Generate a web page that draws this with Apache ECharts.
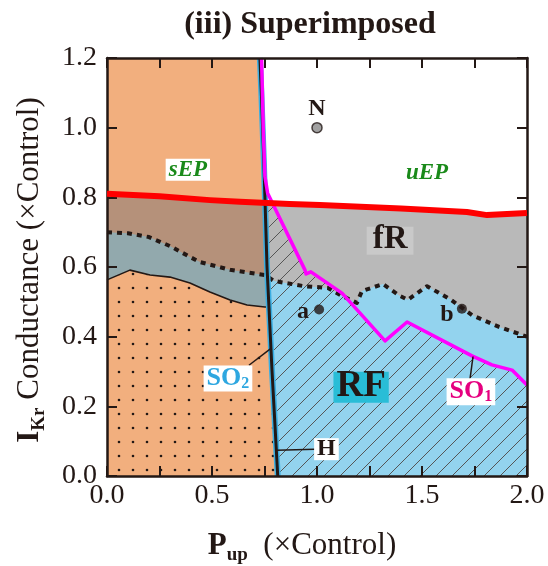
<!DOCTYPE html>
<html>
<head>
<meta charset="utf-8">
<script src="https://cdn.jsdelivr.net/npm/echarts@6/dist/echarts.min.js"></script>
<style>
  html, body { margin: 0; padding: 0; background: #fff; }
  #chart { width: 548px; height: 566px; }
</style>
</head>
<body>
<div id="chart"></div>
<script>
// ---- axis ticks ----
const xTickValues = [0, 0.5, 1.0, 1.5, 2.0];
const xTickLabels = ['0.0', '0.5', '1.0', '1.5', '2.0'];
const yTickValues = [0, 0.2, 0.4, 0.6, 0.8, 1.0, 1.2];
const yTickLabels = ['0.0', '0.2', '0.4', '0.6', '0.8', '1.0', '1.2'];

// ---- boundaries in (Pup, IKr) space ----
// H boundary (thick black line, SO2 drawn in blue beside it), top to bottom
const hBoundary = [[0.728, 1.2], [0.735, 1.1], [0.741, 1.0], [0.747, 0.9], [0.752, 0.8], [0.757, 0.7],
  [0.762, 0.6], [0.770, 0.5], [0.778, 0.4], [0.786, 0.3], [0.795, 0.2], [0.804, 0.1], [0.813, 0.0]];
// SO1 boundary (magenta)
const so1Boundary = [[0.736, 1.2], [0.744, 1.0], [0.752, 0.86], [0.765, 0.812], [0.943, 0.591], [0.948, 0.58],
  [0.971, 0.586], [1.119, 0.525], [1.324, 0.388], [1.429, 0.442], [1.738, 0.345], [1.833, 0.319],
  [1.929, 0.304], [2.0, 0.261]];
// EP boundary (red): sEP / uEP above it
const epBoundary = [[0, 0.81], [0.25, 0.803], [0.49, 0.792], [0.633, 0.787], [0.87, 0.781], [1.014, 0.778],
  [1.4, 0.768], [1.714, 0.758], [1.81, 0.749], [2.0, 0.755]];
// fR / RF boundary (dotted)
const rfBoundary = [[0, 0.70], [0.1, 0.697], [0.2, 0.686], [0.3, 0.66], [0.395, 0.629], [0.443, 0.614],
  [0.586, 0.592], [0.752, 0.577], [0.795, 0.56], [0.938, 0.545], [1.052, 0.54], [1.119, 0.517],
  [1.19, 0.497], [1.214, 0.531], [1.314, 0.551], [1.395, 0.517], [1.433, 0.506], [1.524, 0.545],
  [1.638, 0.506], [1.738, 0.462], [1.867, 0.428], [2.0, 0.40]];
// lower boundary on the left (thin solid)
const lowBoundary = [[0, 0.563], [0.109, 0.591], [0.205, 0.577], [0.3, 0.571], [0.395, 0.554],
  [0.49, 0.528], [0.586, 0.505], [0.667, 0.491], [0.752, 0.485], [0.775, 0.485]];

// ---- marked conditions ----
const pointN = [1.0, 1.0];
const pointA = [1.01, 0.478];
const pointB = [1.69, 0.48];

const INK = '#231815';
const SERIF = "'Liberation Serif','Times New Roman',Times,serif";
const C_ORANGE = '#f2af7e';
const C_BROWN = '#b5917a';
const C_TEAL = '#92a9ad';
const C_GRAY = '#b9b9b9';
const C_BLUE = '#93d3ee';

// ---- geometry helpers ----
function hxAt(y) {
  for (let i = 0; i < hBoundary.length - 1; i++) {
    const p = hBoundary[i], q = hBoundary[i + 1];
    if (y <= p[1] && y >= q[1]) {
      const t = (p[1] - y) / (p[1] - q[1]);
      return p[0] + t * (q[0] - p[0]);
    }
  }
  return hBoundary[hBoundary.length - 1][0];
}
function splitAtH(curve) {
  const left = [], right = [];
  let cross = null, prevF = null, prev = null;
  curve.forEach(p => {
    const f = p[0] - hxAt(p[1]);
    if (prev && cross === null && prevF < 0 && f >= 0) {
      const t = prevF / (prevF - f);
      cross = [prev[0] + t * (p[0] - prev[0]), prev[1] + t * (p[1] - prev[1])];
    }
    (f < 0 ? left : right).push(p);
    prevF = f; prev = p;
  });
  if (!cross) cross = curve[curve.length - 1];
  return { left, right, cross };
}
function hBelow(y) { return hBoundary.filter(p => p[1] < y); }

function leftBelow(curve) {
  const s = splitAtH(curve);
  return [[0, 0]].concat(s.left, [s.cross], hBelow(s.cross[1]));
}
function rightBelow(curve) {
  const s = splitAtH(curve);
  return [s.cross].concat(s.right, [[2, 0]], hBelow(s.cross[1]).reverse());
}
const leftRegion = [[0, 0], [0, 1.2]].concat(hBoundary);
const so1Region = so1Boundary.concat([[2, 0]], hBoundary.slice().reverse());

// ---- fill patterns ----
function dotPattern() {
  const c = document.createElement('canvas');
  c.width = 14; c.height = 14;
  const g = c.getContext('2d');
  g.fillStyle = C_ORANGE; g.fillRect(0, 0, 14, 14);
  g.fillStyle = INK;
  g.beginPath(); g.arc(7, 8, 1.3, 0, Math.PI * 2); g.fill();
  return { image: c, repeat: 'repeat' };
}
function hatchPattern() {
  const s = 16;
  const c = document.createElement('canvas');
  c.width = s; c.height = s;
  const g = c.getContext('2d');
  g.strokeStyle = '#555'; g.lineWidth = 1;
  g.beginPath();
  g.moveTo(-1, s + 1); g.lineTo(s + 1, -1);
  g.moveTo(-1, 1); g.lineTo(1, -1);
  g.moveTo(s - 1, s + 1); g.lineTo(s + 1, s - 1);
  g.stroke();
  return { image: c, repeat: 'repeat' };
}

function regionSeries(name, pts, fill, z) {
  return {
    type: 'custom', name, coordinateSystem: 'cartesian2d', xAxisIndex: 0, yAxisIndex: 0,
    data: [[0, 0]], z, silent: true, clip: true,
    renderItem: (params, api) => ({
      type: 'polygon',
      shape: { points: pts.map(p => api.coord(p)) },
      style: { fill, stroke: null }
    })
  };
}
function lineSeries(name, data, color, width, type, z) {
  return {
    type: 'line', name, data, z, silent: true, showSymbol: false, symbol: 'none', smooth: false,
    lineStyle: { color, width, type: type || 'solid', cap: 'butt', join: 'round' },
    clip: true, animation: false
  };
}

// ---- text measuring for composed labels ----
const mctx = document.createElement('canvas').getContext('2d');
function tw(text, font) { mctx.font = font; return mctx.measureText(text).width; }

function boxedSub(cx, cy, main, sub, size, subSize, color, box) {
  const f1 = 'bold ' + size + 'px ' + SERIF;
  const f2 = 'bold ' + subSize + 'px ' + SERIF;
  const w1 = tw(main, f1), w2 = tw(sub, f2);
  const w = w1 + w2, x0 = cx - w / 2;
  const out = [];
  if (box) out.push({ type: 'rect', shape: { x: x0 - box.px, y: cy - box.h / 2, width: w + 2 * box.px, height: box.h }, style: { fill: box.fill } });
  out.push({ type: 'text', x: x0, y: cy, style: { text: main, font: f1, fill: color, align: 'left', verticalAlign: 'middle' } });
  if (sub) out.push({ type: 'text', x: x0 + w1, y: cy + size * 0.2, style: { text: sub, font: f2, fill: color, align: 'left', verticalAlign: 'middle' } });
  return out;
}
function boxedText(cx, cy, text, font, color, box) {
  const w = tw(text, font);
  const out = [];
  if (box) out.push({ type: 'rect', shape: { x: cx - w / 2 - box.px, y: cy - box.h / 2 + (box.dy || 0), width: w + 2 * box.px, height: box.h }, style: { fill: box.fill } });
  out.push({ type: 'text', x: cx, y: cy, style: { text, font, fill: color, align: 'center', verticalAlign: 'middle' } });
  return out;
}
function leader(api, a, b) {
  const p = api.coord(a), q = api.coord(b);
  return { type: 'line', shape: { x1: p[0], y1: p[1], x2: q[0], y2: q[1] }, style: { stroke: INK, lineWidth: 1.5 } };
}

const annotationSeries = {
  type: 'custom', name: 'annotations', coordinateSystem: 'cartesian2d', data: [[0, 0]], z: 20, silent: true, clip: false,
  renderItem: (params, api) => {
    const kids = [];
    const c = p => api.coord(p);
    let p;
    p = c([0.385, 0.879]);
    kids.push(...boxedText(p[0], p[1], 'sEP', 'italic bold 23px ' + SERIF, '#1a8a1a', { fill: '#fff', px: 3, h: 22 }));
    p = c([1.524, 0.870]);
    kids.push(...boxedText(p[0], p[1], 'uEP', 'italic bold 23px ' + SERIF, '#1a8a1a'));
    p = c(pointN);
    kids.push(...boxedText(p[0], p[1] - 19, 'N', 'bold 24px ' + SERIF, INK));
    p = c(pointA);
    kids.push(...boxedText(p[0] - 16, p[1] + 2, 'a', 'bold 24px ' + SERIF, INK));
    p = c(pointB);
    kids.push(...boxedText(p[0] - 15, p[1] + 6, 'b', 'bold 24px ' + SERIF, INK));
    p = c([1.348, 0.678]);
    kids.push(...boxedText(p[0], p[1], 'fR', 'bold 33px ' + SERIF, INK, { fill: '#c9c9c9', px: 6, h: 28, dy: 1 }));
    p = c([1.21, 0.258]);
    kids.push(...boxedText(p[0], p[1], 'RF', 'bold 37px ' + SERIF, INK, { fill: '#29bdd7', px: 3, h: 31, dy: 1 }));
    // SO1 label and leader
    kids.push(leader(api, [1.729, 0.28], [1.743, 0.343]));
    p = c([1.733, 0.242]);
    kids.push(...boxedSub(p[0], p[1], 'SO', '1', 26, 16, '#e5007f', { fill: '#fff', px: 3, h: 27 }));
    // SO2 label and leader
    kids.push(leader(api, [0.676, 0.318], [0.784, 0.368]));
    p = c([0.576, 0.28]);
    kids.push(...boxedSub(p[0], p[1], 'SO', '2', 26, 16, '#2ea7e0', { fill: '#fff', px: 3, h: 26 }));
    // H label and leader
    kids.push(leader(api, [0.99, 0.077], [0.808, 0.074]));
    p = c([1.045, 0.077]);
    kids.push(...boxedText(p[0], p[1], 'H', 'bold 24px ' + SERIF, INK, { fill: '#fff', px: 3, h: 22 }));
    return { type: 'group', children: kids };
  }
};

function fmtFrom(values, labels) {
  return v => {
    const i = values.findIndex(t => Math.abs(t - v) < 1e-6);
    return i >= 0 ? labels[i] : '';
  };
}
const axisLine = { show: true, onZero: false, lineStyle: { color: INK, width: 2.5 } };
const axisTick = { show: true, inside: true, length: 10, lineStyle: { color: INK, width: 2 } };
const tickFont = { fontFamily: SERIF, fontSize: 28, color: INK };

// ---- axis titles composed from pieces ----
function titlePieces(pieces) {
  let total = 0;
  pieces.forEach(q => { q.w = tw(q.text, q.font); total += q.w; });
  let x = -total / 2;
  return pieces.map(q => {
    const el = { type: 'text', x, y: q.dy || 0, style: { text: q.text, font: q.font, fill: INK, align: 'left', verticalAlign: 'middle' } };
    x += q.w;
    return el;
  });
}
const xNamePieces = titlePieces([
  { text: 'P', font: 'bold 31px ' + SERIF },
  { text: 'up', font: 'bold 19px ' + SERIF, dy: 9 },
  { text: '  (\u00d7Control)', font: '31px ' + SERIF }
]);
const yNamePieces = titlePieces([
  { text: 'I', font: 'bold 31px ' + SERIF },
  { text: 'Kr', font: 'bold 19px ' + SERIF, dy: 9 },
  { text: ' Conductance (\u00d7Control)', font: '31px ' + SERIF }
]);

const chart = echarts.init(document.getElementById('chart'), null, { renderer: 'canvas' });
chart.setOption({
  animation: false,
  backgroundColor: '#fff',
  grid: { left: 107, right: 21, top: 58, bottom: 90, containLabel: false },
  xAxis: [
    { type: 'value', min: 0, max: 2, interval: 0.25, position: 'bottom', z: 10,
      axisLine, axisTick, splitLine: { show: false },
      axisLabel: Object.assign({ margin: 6, formatter: fmtFrom(xTickValues, xTickLabels) }, tickFont) },
    { type: 'value', min: 0, max: 2, interval: 0.25, position: 'top', z: 10,
      axisLine, axisTick, splitLine: { show: false }, axisLabel: { show: false } }
  ],
  yAxis: [
    { type: 'value', min: 0, max: 1.2, interval: 0.2, position: 'left', z: 10,
      axisLine, axisTick, splitLine: { show: false },
      axisLabel: Object.assign({ margin: 10, formatter: fmtFrom(yTickValues, yTickLabels) }, tickFont) },
    { type: 'value', min: 0, max: 1.2, interval: 0.2, position: 'right', z: 10,
      axisLine, axisTick, splitLine: { show: false }, axisLabel: { show: false } }
  ],
  graphic: [
    { type: 'text', x: 310, y: 25, style: { text: '(iii) Superimposed', font: 'bold 32px ' + SERIF, fill: INK, align: 'center', verticalAlign: 'middle' } },
    { type: 'group', x: 302, y: 546, children: xNamePieces },
    { type: 'group', x: 30, y: 270, rotation: Math.PI / 2, children: yNamePieces }
  ],
  series: [
    regionSeries('sEP', leftRegion, C_ORANGE, 1),
    regionSeries('left below EP', leftBelow(epBoundary), C_BROWN, 2),
    regionSeries('left below RF', leftBelow(rfBoundary), C_TEAL, 3),
    regionSeries('left lower', leftBelow(lowBoundary), dotPattern(), 4),
    regionSeries('fR', rightBelow(epBoundary), C_GRAY, 2),
    regionSeries('RF', rightBelow(rfBoundary), C_BLUE, 3),
    regionSeries('SO1 region', so1Region, hatchPattern(), 5),
    lineSeries('RF boundary', rfBoundary, INK, 4, [5, 5], 6),
    lineSeries('lower boundary', splitAtH(lowBoundary).left.concat([splitAtH(lowBoundary).cross]), INK, 1.6, 'solid', 6),
    lineSeries('SO2', hBoundary, '#3aaee2', 6, 'solid', 7),
    lineSeries('H', hBoundary, INK, 3, 'solid', 8),
    lineSeries('SO1', so1Boundary, '#ff00ff', 3.5, 'solid', 9),
    lineSeries('EP', epBoundary, '#ff0000', 6, 'solid', 10),
    {
      type: 'scatter', name: 'conditions', z: 15, silent: true, symbolSize: 10,
      data: [
        { value: pointN, itemStyle: { color: '#8a8a8a', borderColor: INK, borderWidth: 1.5 } },
        { value: pointA, itemStyle: { color: INK } },
        { value: pointB, itemStyle: { color: INK } }
      ]
    },
    annotationSeries
  ]
});
</script>
</body>
</html>
